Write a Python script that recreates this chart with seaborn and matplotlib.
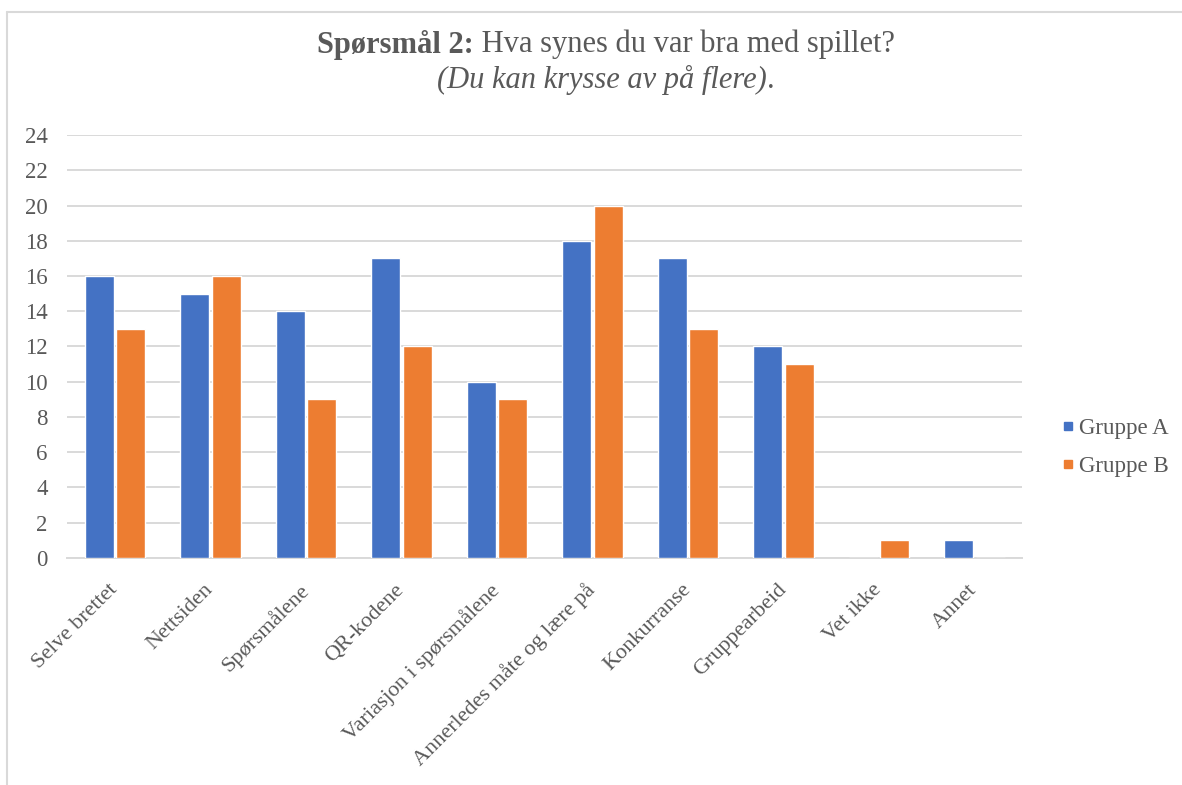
import matplotlib
matplotlib.use("Agg")
import matplotlib.pyplot as plt
from matplotlib.lines import Line2D
from matplotlib.ticker import FixedLocator
import pandas as pd
import seaborn as sns

kategorier = ["Selve brettet", "Nettsiden", "Spørsmålene", "QR-kodene",
              "Variasjon i spørsmålene", "Annerledes måte og lære på",
              "Konkurranse", "Gruppearbeid", "Vet ikke", "Annet"]
gruppe_a = [16, 15, 14, 17, 10, 18, 17, 12, 0, 1]
gruppe_b = [13, 16, 9, 12, 9, 20, 13, 11, 1, 0]
grupper = ["Gruppe A", "Gruppe B"]
farger = ["#4472C4", "#ED7D31"]
y_ticks = list(range(0, 25, 2))

df = pd.DataFrame({
    "kategori": kategorier * 2,
    "antall": gruppe_a + gruppe_b,
    "gruppe": [grupper[0]] * len(kategorier) + [grupper[1]] * len(kategorier),
})

sns.set_style("white")
plt.rcParams["font.family"] = ["Liberation Serif", "DejaVu Serif"]
tekst = "#595959"
grid = "#D9D9D9"

fig = plt.figure(figsize=(11.82, 7.85), dpi=100)
ax = fig.add_axes([0.0567, 0.2892, 0.808, 0.5388])

sns.barplot(data=df, x="kategori", y="antall", hue="gruppe",
            palette=farger, saturation=1, width=0.66, gap=0.08,
            edgecolor="white", linewidth=1.0, ax=ax, legend=False, zorder=3)

ax.set_xlim(-0.5, len(kategorier) - 0.5)
ax.set_ylim(0, 24)
ax.set_yticks(y_ticks)
ax.set_xlabel("")
ax.set_ylabel("")

ax.yaxis.grid(True, color=grid, linewidth=1.4, zorder=0)
ax.set_axisbelow(True)
for side in ["top", "right", "left"]:
    ax.spines[side].set_visible(False)
ax.spines["bottom"].set_color(grid)
ax.spines["bottom"].set_linewidth(1.4)
ax.spines["bottom"].set_zorder(1)

ax.tick_params(axis="y", length=0, labelsize=16.5, labelcolor=tekst, pad=14)
ax.tick_params(axis="x", which="major", length=0, labelsize=16,
               labelcolor=tekst, pad=21)
ax.xaxis.set_minor_locator(FixedLocator([i - 0.5 for i in range(len(kategorier) + 1)]))
ax.tick_params(axis="x", which="minor", length=6, width=1.4, color=grid)
plt.setp(ax.get_xticklabels(), rotation=45, ha="right", va="center",
         rotation_mode="anchor")

# Legend at the right of the plot
handles = [Line2D([], [], marker="s", linestyle="", markersize=6,
                  markerfacecolor=c, markeredgecolor=c) for c in farger]
fig.legend(handles, grupper, loc="center left", bbox_to_anchor=(0.88, 0.43),
           frameon=False, fontsize=16.5, labelcolor=tekst, handlelength=0.6,
           handletextpad=0.2, labelspacing=0.75)

# Title: bold lead followed by regular text, italic subtitle below
fig.canvas.draw()
r = fig.canvas.get_renderer()
t1 = fig.text(0, 0.943, "Spørsmål 2:", fontsize=22, fontweight="bold",
              color=tekst, va="center")
t2 = fig.text(0, 0.943, " Hva synes du var bra med spillet?", fontsize=22,
              color=tekst, va="center")
w1 = t1.get_window_extent(r).width
w2 = t2.get_window_extent(r).width
cx = 606
x0 = cx - (w1 + w2) / 2
t1.set_x(x0 / 1182)
t2.set_x((x0 + w1) / 1182)

s1 = fig.text(0, 0.898, "(Du kan krysse av på flere)", fontsize=22,
              fontstyle="italic", color=tekst, va="center")
s2 = fig.text(0, 0.898, ".", fontsize=22, color=tekst, va="center")
v1 = s1.get_window_extent(r).width
v2 = s2.get_window_extent(r).width
x1 = cx - (v1 + v2) / 2
s1.set_x(x1 / 1182)
s2.set_x((x1 + v1) / 1182)

# Chart frame edges
fig.add_artist(Line2D([7 / 1182, 1.0], [1 - 12 / 785, 1 - 12 / 785],
                      transform=fig.transFigure, color="#D9D9D9", linewidth=1.5))
fig.add_artist(Line2D([7 / 1182, 7 / 1182], [0.0, 1 - 12 / 785],
                      transform=fig.transFigure, color="#D9D9D9", linewidth=1.5))

fig.savefig("out.png", dpi=100, facecolor="white")
